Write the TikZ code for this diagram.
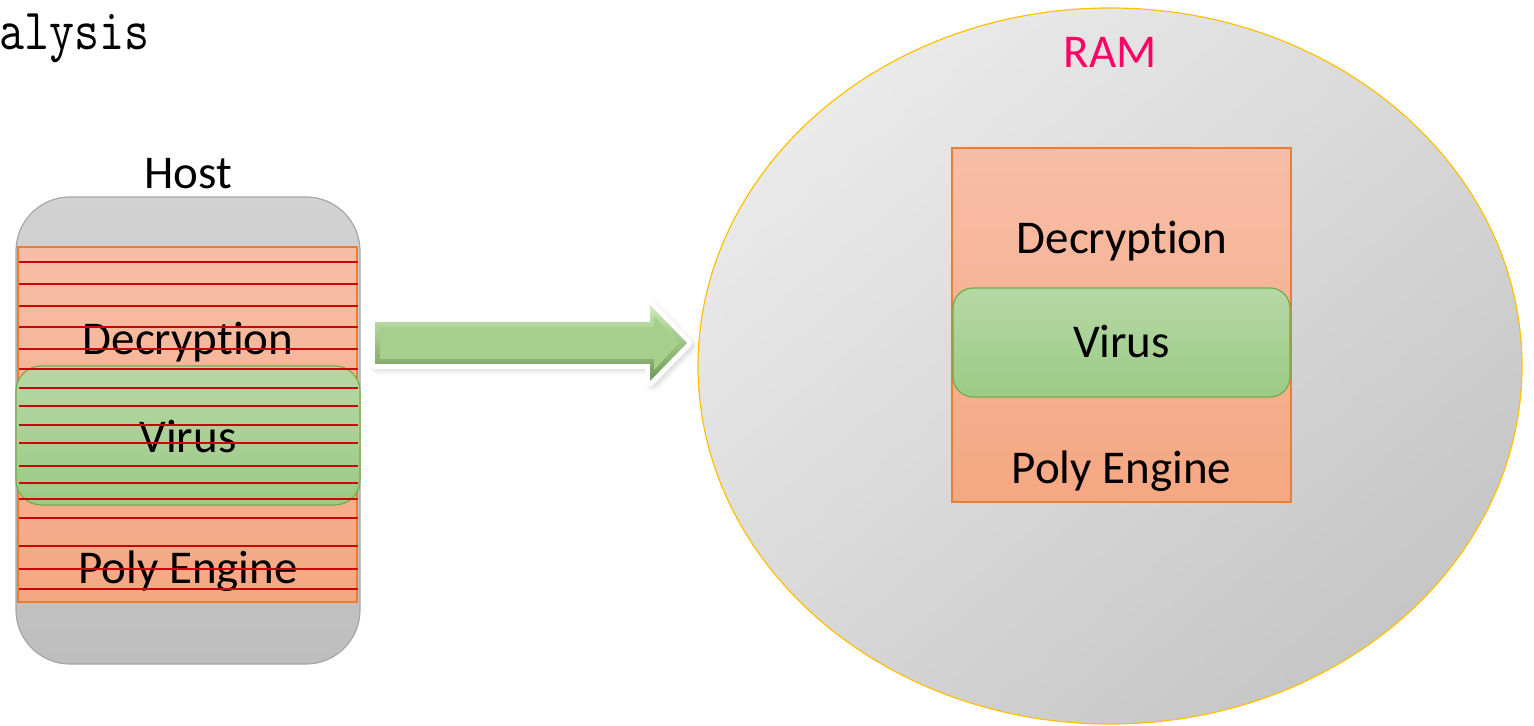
\documentclass[tikz,border=0pt]{standalone}
\usepackage{fontspec}
\setmainfont{Carlito}[Ligatures=NoCommon]
\usetikzlibrary{shadows.blur,shapes.geometric}

\definecolor{hostgrayA}{HTML}{D2D2D2}
\definecolor{hostgrayB}{HTML}{BEBEBE}
\definecolor{hostedge}{HTML}{A6A6A6}
\definecolor{salmonA}{HTML}{F7BEA7}
\definecolor{salmonB}{HTML}{F5A782}
\definecolor{salmonedge}{HTML}{ED7D31}
\definecolor{leafA}{HTML}{B6D8A6}
\definecolor{leafB}{HTML}{9CCA85}
\definecolor{leafedge}{HTML}{70AD47}
\definecolor{stripe}{RGB}{200,8,8}
\definecolor{ramA}{HTML}{EAEAEA}
\definecolor{ramB}{HTML}{C6C6C6}
\definecolor{ramedge}{HTML}{FFC000}
\definecolor{ramtitle}{HTML}{FF0066}
\definecolor{arrowA}{HTML}{CDEBB8}
\definecolor{arrowB}{HTML}{6F9A55}
\definecolor{arrowfill}{HTML}{A7CF8C}

% "Decryption" set without the t-i ligature
\newcommand{\decword}{Decrypt\kern0pt ion}

\tikzset{
  label text/.style={font=\fontsize{23.5pt}{28pt}\selectfont, inner sep=0pt, anchor=base},
  segment/.style={draw=salmonedge, line width=0.6pt, top color=salmonA, bottom color=salmonB, inner sep=0pt},
  payload/.style={draw=leafedge, line width=0.6pt, top color=leafA, bottom color=leafB, inner sep=0pt},
  stripe line/.style={draw=stripe, line width=0.8pt},
}

\begin{document}
\begin{tikzpicture}[x=0.5pt,y=-0.5pt]
\useasboundingbox (0,0) rectangle (1534,726);

% heading cut off at the left margin
\node[inner sep=0pt, anchor=base west]
  (heading) at (-1,50) {\scalebox{1}[1.2]{\ttfamily\fontsize{24.3pt}{28pt}\selectfont alysis}};

% ---- infected host file ----
\node[draw=hostedge, line width=0.6pt, top color=hostgrayA, bottom color=hostgrayB,
      rounded corners=27pt, minimum width=172pt, minimum height=233.5pt, inner sep=0pt]
  (host) at (188,430.5) {};
\node[segment, minimum width=169.5pt, minimum height=177.5pt] (hostbody) at (187.5,424.5) {};
\node[payload, rounded corners=12.5pt, minimum width=172pt, minimum height=69.5pt] (hostvirus) at (188,435.5) {};

\node[label text] (hosttitle) at (188,189) {Host};
\node[label text] (hostdec)   at (188,355) {\decword};
\node[label text] (hostvir)   at (188,452) {Virus};
\node[label text] (hostpoly)  at (188,583) {Poly Engine};

% encrypted lines across the host body
\foreach \yy in {262,284,306,327,349,369,388,406,425,443,466,483,499,518,546,569,589}
  \draw[stripe line] (19,\yy) -- (358,\yy);

% ---- block arrow: white rim with soft shadow, bevelled green body ----
\path[draw=white, fill=white, line width=5pt, line join=round,
      blur shadow={shadow xshift=1.5pt, shadow yshift=-1.5pt, shadow blur radius=4pt, shadow opacity=35}]
  (375,322) -- (650,322) -- (650,305) -- (687,343) -- (650,381) -- (650,364) -- (375,364) -- cycle;
\path[top color=arrowA, bottom color=arrowB]
  (375,322) -- (650,322) -- (650,305) -- (687,343) -- (650,381) -- (650,364) -- (375,364) -- cycle;
\path[fill=arrowfill]
  (380,327) -- (654,327) -- (654,316) -- (679,343) -- (654,370) -- (654,359) -- (380,359) -- cycle;

% ---- memory ----
\node[draw=ramedge, line width=0.6pt, ellipse, top color=ramA, bottom color=ramB, shading angle=40,
      minimum width=412pt, minimum height=358pt, inner sep=0pt]
  (ram) at (1110,366) {};
\node[label text, text=ramtitle] (ramtitle) at (1110,68) {RAM};

\node[segment, minimum width=169.5pt, minimum height=177pt] (rambody) at (1121.5,325) {};
\node[payload, rounded corners=10pt, minimum width=168.5pt, minimum height=54.5pt] (ramvirus) at (1121.5,342.5) {};

\node[label text] (ramdec)  at (1122,254) {\decword};
\node[label text] (ramvir)  at (1121.5,358) {Virus};
\node[label text] (rampoly) at (1121.5,483) {Poly Engine};
\end{tikzpicture}
\end{document}
